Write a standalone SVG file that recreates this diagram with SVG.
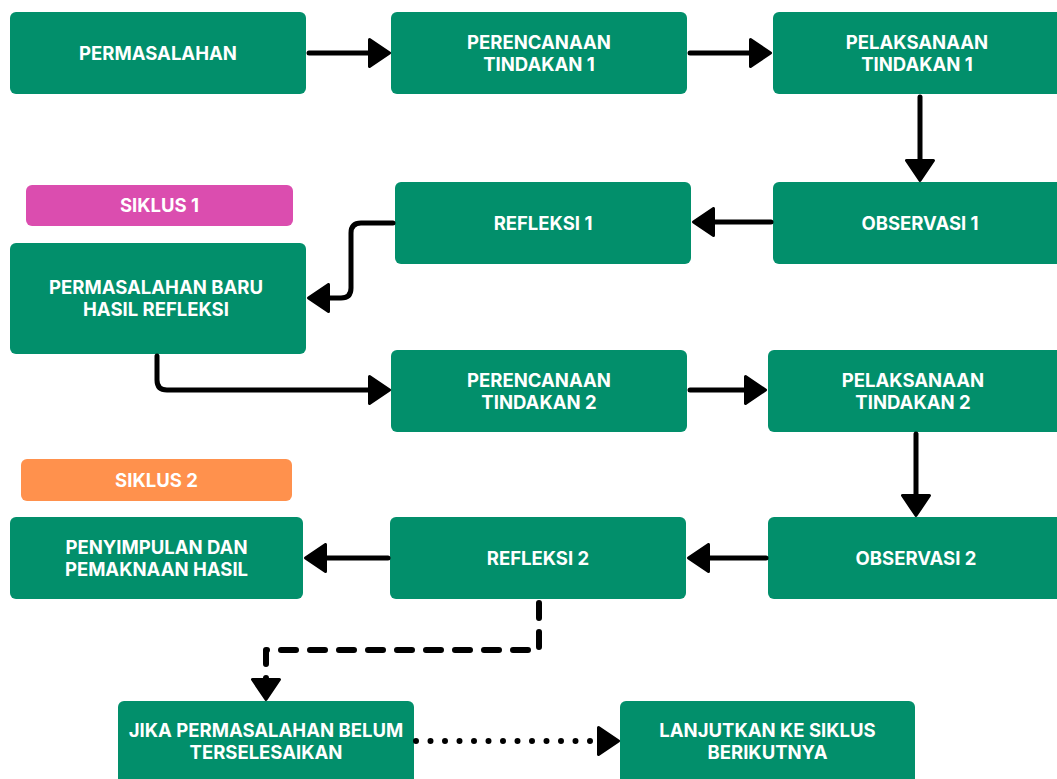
<svg xmlns="http://www.w3.org/2000/svg" width="1057" height="779" viewBox="0 0 1057 779">
<defs>
<style>
.box{fill:#028F6B}
.t{fill:#ffffff;font-family:Inter,"Liberation Sans",sans-serif;font-weight:700;font-size:18.5px;text-anchor:middle}
.c{fill:none;stroke:#000;stroke-width:5;stroke-linecap:round;stroke-linejoin:round}
.dash{stroke-width:6;stroke-dasharray:15 14}
.dot{stroke-width:6;stroke-dasharray:0 14.5}
</style>
<marker id="ah" markerUnits="userSpaceOnUse" viewBox="0 0 25 30" markerWidth="25" markerHeight="30" refX="2" refY="15" orient="auto">
<path d="M2,1.5 L22,15 L2,28.5 Z" fill="#000" stroke="#000" stroke-width="3" stroke-linejoin="round"/>
</marker>
</defs>
<rect width="1057" height="779" fill="#ffffff"/>
<g id="permasalahan"><rect class="box" x="10" y="12" width="296" height="82" rx="6"/><text class="t" x="158" y="59.5">PERMASALAHAN</text></g>
<g id="perencanaan1"><rect class="box" x="391" y="12" width="296" height="82" rx="6"/><text class="t" x="539" y="48.5">PERENCANAAN</text><text class="t" x="539" y="70.5">TINDAKAN 1</text></g>
<g id="pelaksanaan1"><rect class="box" x="773" y="12" width="296" height="82" rx="6"/><text class="t" x="917" y="48.5">PELAKSANAAN</text><text class="t" x="917" y="70.5">TINDAKAN 1</text></g>
<g id="siklus1"><rect x="26" y="185" width="267" height="41" rx="6" fill="#DB4DAF"/><text class="t" x="159.5" y="212">SIKLUS 1</text></g>
<g id="refleksi1"><rect class="box" x="395" y="182" width="296" height="82" rx="6"/><text class="t" x="543" y="229.5">REFLEKSI 1</text></g>
<g id="observasi1"><rect class="box" x="773" y="182" width="296" height="82" rx="6"/><text class="t" x="920" y="229.5">OBSERVASI 1</text></g>
<g id="permasalahanbaru"><rect class="box" x="10" y="243" width="296" height="111" rx="6"/><text class="t" x="156" y="293.5">PERMASALAHAN BARU</text><text class="t" x="156" y="315.5">HASIL REFLEKSI</text></g>
<g id="perencanaan2"><rect class="box" x="391" y="350" width="296" height="82" rx="6"/><text class="t" x="539" y="386.5">PERENCANAAN</text><text class="t" x="539" y="408.5">TINDAKAN 2</text></g>
<g id="pelaksanaan2"><rect class="box" x="768" y="350" width="296" height="82" rx="6"/><text class="t" x="913" y="386.5">PELAKSANAAN</text><text class="t" x="913" y="408.5">TINDAKAN 2</text></g>
<g id="siklus2"><rect x="21" y="459" width="271" height="42" rx="6" fill="#FF914D"/><text class="t" x="156.5" y="486.5">SIKLUS 2</text></g>
<g id="penyimpulan"><rect class="box" x="10" y="517" width="293" height="82" rx="6"/><text class="t" x="156.5" y="553.5">PENYIMPULAN DAN</text><text class="t" x="156.5" y="575.5">PEMAKNAAN HASIL</text></g>
<g id="refleksi2"><rect class="box" x="390" y="517" width="296" height="82" rx="6"/><text class="t" x="538" y="564.5">REFLEKSI 2</text></g>
<g id="observasi2"><rect class="box" x="768" y="517" width="296" height="82" rx="6"/><text class="t" x="916" y="564.5">OBSERVASI 2</text></g>
<g id="jika"><rect class="box" x="118" y="701" width="296" height="90" rx="6"/><text class="t" x="266" y="736.5">JIKA PERMASALAHAN BELUM</text><text class="t" x="266" y="758.5">TERSELESAIKAN</text></g>
<g id="lanjutkan"><rect class="box" x="620" y="701" width="295" height="90" rx="6"/><text class="t" x="767.5" y="736.5">LANJUTKAN KE SIKLUS</text><text class="t" x="767.5" y="758.5">BERIKUTNYA</text></g>
<g id="connectors">
<path class="c" marker-end="url(#ah)" d="M309,53 H369.5"/>
<path class="c" marker-end="url(#ah)" d="M690,53 H750.5"/>
<path class="c" marker-end="url(#ah)" d="M920,97 V160.5"/>
<path class="c" marker-end="url(#ah)" d="M771,222 H713.5"/>
<path class="c" marker-end="url(#ah)" d="M393,223 H361 Q351,223 351,233 V288 Q351,298 341,298 H328.5"/>
<path class="c" marker-end="url(#ah)" d="M157,356 V380 Q157,390 167,390 H369.5"/>
<path class="c" marker-end="url(#ah)" d="M690,390 H745.5"/>
<path class="c" marker-end="url(#ah)" d="M916,434 V495.5"/>
<path class="c" marker-end="url(#ah)" d="M766,558 H708.5"/>
<path class="c" marker-end="url(#ah)" d="M388,558 H325.5"/>
<path class="c dash" marker-end="url(#ah)" d="M539,603 V650 H266 V679.5"/>
<path class="c dot" marker-end="url(#ah)" d="M416,741 H598.5"/>
</g>
</svg>
